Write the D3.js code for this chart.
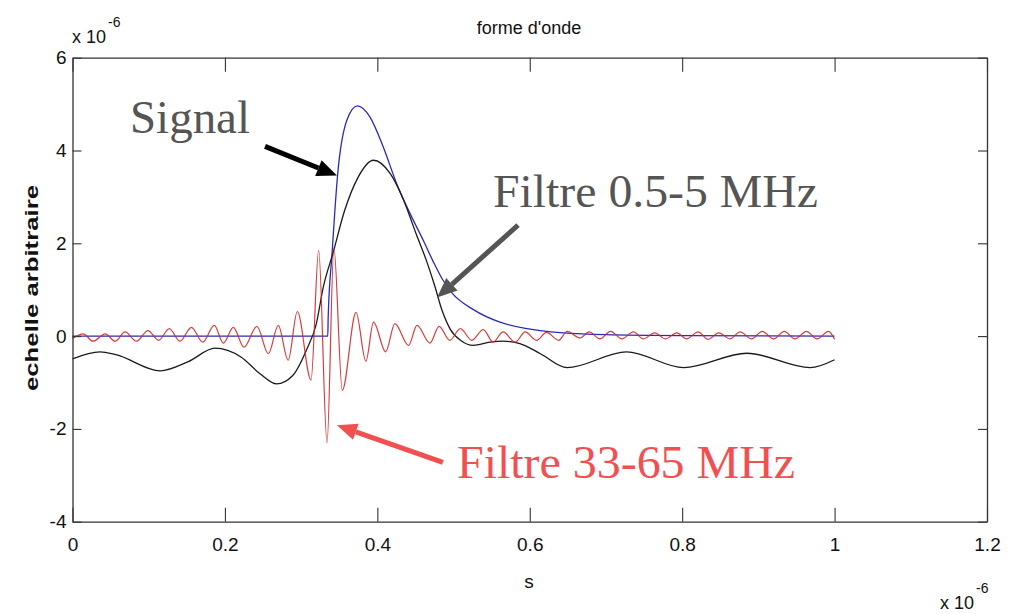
<!DOCTYPE html>
<html>
<head>
<meta charset="utf-8">
<script src="https://cdn.jsdelivr.net/npm/d3@7"></script>
<style>
  html, body { margin: 0; padding: 0; background: #ffffff; }
  svg { display: block; }
</style>
</head>
<body>
<svg id="chart" width="1012" height="614"></svg>
<script>
// ---------- data (x in 1e-6 s, y in 1e-6 arbitrary units) ----------
const xTicks = [0, 0.2, 0.4, 0.6, 0.8, 1, 1.2];
const xTickLabels = ["0", "0.2", "0.4", "0.6", "0.8", "1", "1.2"];
const yTicks = [-4, -2, 0, 2, 4, 6];
const yTickLabels = ["-4", "-2", "0", "2", "4", "6"];

// Signal (blue)
const signalT = [0, 0.335, 0.3355, 0.3406, 0.3478, 0.360, 0.3738, 0.3904, 0.4079, 0.4255, 0.443, 0.4604, 0.4735, 0.4856, 0.4979, 0.5261, 0.561, 0.596, 0.6135, 0.644, 0.70, 0.80, 1.0];
const signalV = [0, 0, 0.4, 1.78, 3.46, 4.65, 4.96, 4.72, 4.07, 3.28, 2.64, 2.06, 1.6, 1.22, 0.93, 0.57, 0.3, 0.16, 0.12, 0.07, 0.03, 0.01, 0];

// Filtre 0.5-5 MHz (black)
const lowT = [0, 0.036, 0.057, 0.115, 0.152, 0.187, 0.221, 0.246, 0.268, 0.289, 0.307, 0.320, 0.329, 0.342, 0.357, 0.374, 0.395, 0.417, 0.434, 0.451, 0.465, 0.475, 0.485, 0.496, 0.510, 0.526, 0.548, 0.565, 0.587, 0.614, 0.649, 0.727, 0.802, 0.885, 0.968, 1.0];
const lowV = [-0.49, -0.34, -0.40, -0.75, -0.55, -0.26, -0.45, -0.81, -1.03, -0.85, -0.30, 0.27, 1.05, 1.8, 2.7, 3.4, 3.79, 3.5, 2.95, 2.2, 1.6, 1.1, 0.55, 0.14, -0.1, -0.2, -0.13, -0.11, -0.16, -0.38, -0.68, -0.34, -0.68, -0.37, -0.68, -0.51];

// Filtre 33-65 MHz (red)
const highT = [0.000, 0.014, 0.027, 0.043, 0.056, 0.069, 0.084, 0.099, 0.113, 0.127, 0.141, 0.156, 0.171, 0.186, 0.198, 0.211, 0.225, 0.242, 0.257, 0.270, 0.283, 0.295, 0.313, 0.323, 0.334, 0.343, 0.354, 0.372, 0.385, 0.395, 0.411, 0.423, 0.441, 0.452, 0.469, 0.481, 0.495, 0.509, 0.524, 0.539, 0.552, 0.565, 0.581, 0.594, 0.609, 0.622, 0.638, 0.649, 0.666, 0.678, 0.692, 0.706, 0.721, 0.736, 0.749, 0.764, 0.778, 0.793, 0.806, 0.821, 0.834, 0.848, 0.863, 0.876, 0.891, 0.905, 0.920, 0.934, 0.948, 0.963, 0.977, 0.992, 1.000];
const highV = [-0.05, 0.05, -0.11, 0.05, -0.11, 0.09, -0.11, 0.12, -0.09, 0.16, -0.11, 0.19, -0.13, 0.23, -0.15, 0.19, -0.24, 0.21, -0.38, 0.23, -0.52, 0.53, -0.95, 1.85, -2.3, 1.9, -1.17, 0.51, -0.54, 0.3, -0.34, 0.27, -0.2, 0.23, -0.15, 0.21, -0.09, 0.16, -0.09, 0.14, -0.13, 0.09, -0.13, 0.09, -0.09, 0.08, -0.09, 0.1, -0.04, 0.09, -0.06, 0.1, -0.06, 0.09, -0.06, 0.07, -0.06, 0.07, -0.06, 0.09, -0.07, 0.07, -0.06, 0.09, -0.06, 0.1, -0.06, 0.1, -0.06, 0.1, -0.06, 0.1, -0.07];

// annotation arrows [tailT, tailV, tipT, tipV] in data units
const arrowSignal = [0.2526, 4.09, 0.347, 3.46];
const arrowLow = [0.5846, 2.39, 0.4783, 0.83];
const arrowHigh = [0.486, -2.72, 0.347, -1.92];

// ---------- layout ----------
const svg = d3.select("#chart");
const x = d3.scaleLinear().domain([0, 1.2]).range([72.5, 987]);
const y = d3.scaleLinear().domain([-4, 6]).range([521.7, 57.7]);

const tickFont = "'Liberation Sans', Arial, Helvetica, sans-serif";
const axisColor = "#333";

svg.append("rect").attr("x", x(0)).attr("y", y(6))
  .attr("width", x(1.2) - x(0)).attr("height", y(-4) - y(6))
  .attr("fill", "#fff").attr("stroke", "none");

// lines
const zip = (t, v) => t.map((d, i) => [d, v[i]]);
const line = d3.line().x(d => x(d[0])).y(d => y(d[1])).curve(d3.curveMonotoneX);

const plot = svg.append("g");
plot.append("path").datum(zip(signalT, signalV)).attr("d", line)
  .attr("fill", "none").attr("stroke", "#2a2ab8").attr("stroke-width", 1.3);
plot.append("path").datum(zip(lowT, lowV)).attr("d", line)
  .attr("fill", "none").attr("stroke", "#1a1a1a").attr("stroke-width", 1.3);
plot.append("path").datum(zip(highT, highV)).attr("d", line)
  .attr("fill", "none").attr("stroke", "#d02828").attr("stroke-width", 1.2).attr("stroke-opacity", 0.9);

// axes
function styleAxis(g) {
  g.selectAll("path.domain").attr("stroke", axisColor).attr("stroke-width", 1.3);
  g.selectAll(".tick line").attr("stroke", axisColor).attr("stroke-width", 1.1);
  g.selectAll(".tick text").attr("fill", "#111").attr("font-family", tickFont).attr("font-size", 19);
}
const xFmt = (d) => xTickLabels[xTicks.indexOf(d)];
const yFmt = (d) => yTickLabels[yTicks.indexOf(d)];

svg.append("g").attr("transform", `translate(0,${y(-4)})`)
  .call(d3.axisBottom(x).tickValues(xTicks).tickFormat(xFmt).tickSizeInner(-14).tickSizeOuter(0).tickPadding(16))
  .call(styleAxis);
svg.append("g").attr("transform", `translate(0,${y(6)})`)
  .call(d3.axisTop(x).tickValues(xTicks).tickFormat("").tickSizeInner(-14).tickSizeOuter(0))
  .call(styleAxis);
svg.append("g").attr("transform", `translate(${x(0)},0)`)
  .call(d3.axisLeft(y).tickValues(yTicks).tickFormat(yFmt).tickSizeInner(-9).tickSizeOuter(0).tickPadding(6))
  .call(styleAxis);
svg.append("g").attr("transform", `translate(${x(1.2)},0)`)
  .call(d3.axisRight(y).tickValues(yTicks).tickFormat("").tickSizeInner(-9).tickSizeOuter(0))
  .call(styleAxis);

// axis texts
svg.append("text").attr("x", 529).attr("y", 34).attr("text-anchor", "middle")
  .attr("font-family", tickFont).attr("font-size", 18).attr("fill", "#111").text("forme d'onde");
svg.append("text").attr("x", 529).attr("y", 588).attr("text-anchor", "middle")
  .attr("font-family", tickFont).attr("font-size", 19).attr("fill", "#111").text("s");
svg.append("text").attr("transform", "translate(38,288) rotate(-90)").attr("text-anchor", "middle")
  .attr("font-family", tickFont).attr("font-size", 18).attr("font-weight", "bold").attr("fill", "#111")
  .attr("textLength", 206).attr("lengthAdjust", "spacingAndGlyphs")
  .text("echelle arbitraire");

// exponent labels
function expLabel(xp, yp) {
  const g = svg.append("g").attr("transform", `translate(${xp},${yp})`);
  g.append("text").attr("x", 0).attr("y", 0).attr("font-family", tickFont).attr("font-size", 18).attr("fill", "#111").text("x 10");
  g.append("text").attr("x", 36).attr("y", -16).attr("font-family", tickFont).attr("font-size", 14).attr("fill", "#111").text("-6");
}
expLabel(72, 43);
expLabel(940, 609);

// annotations
const annFont = "'Liberation Serif', 'Times New Roman', Times, serif";
svg.append("text").attr("x", 130).attr("y", 133).attr("font-family", annFont).attr("font-size", 47)
  .attr("fill", "#555").attr("textLength", 120).attr("lengthAdjust", "spacingAndGlyphs").text("Signal");
svg.append("text").attr("x", 493).attr("y", 207).attr("font-family", annFont).attr("font-size", 47)
  .attr("fill", "#555").attr("textLength", 325).attr("lengthAdjust", "spacingAndGlyphs").text("Filtre 0.5-5 MHz");
svg.append("text").attr("x", 457).attr("y", 478).attr("font-family", annFont).attr("font-size", 47)
  .attr("fill", "#f25050").attr("textLength", 338).attr("lengthAdjust", "spacingAndGlyphs").text("Filtre 33-65 MHz");

function arrow(a, color, width, headLen, headW) {
  const x1 = x(a[0]), y1 = y(a[1]), x2 = x(a[2]), y2 = y(a[3]);
  const ang = Math.atan2(y2 - y1, x2 - x1);
  const bx = x2 - headLen * Math.cos(ang), by = y2 - headLen * Math.sin(ang);
  svg.append("line").attr("x1", x1).attr("y1", y1).attr("x2", bx).attr("y2", by)
    .attr("stroke", color).attr("stroke-width", width);
  const px = -Math.sin(ang) * headW / 2, py = Math.cos(ang) * headW / 2;
  svg.append("path")
    .attr("d", `M${x2},${y2}L${bx + px},${by + py}L${bx - px},${by - py}Z`)
    .attr("fill", color);
}
arrow(arrowSignal, "#000", 5, 20, 17);
arrow(arrowLow, "#555", 5, 20, 17);
arrow(arrowHigh, "#f25050", 5, 20, 17);
</script>
</body>
</html>
